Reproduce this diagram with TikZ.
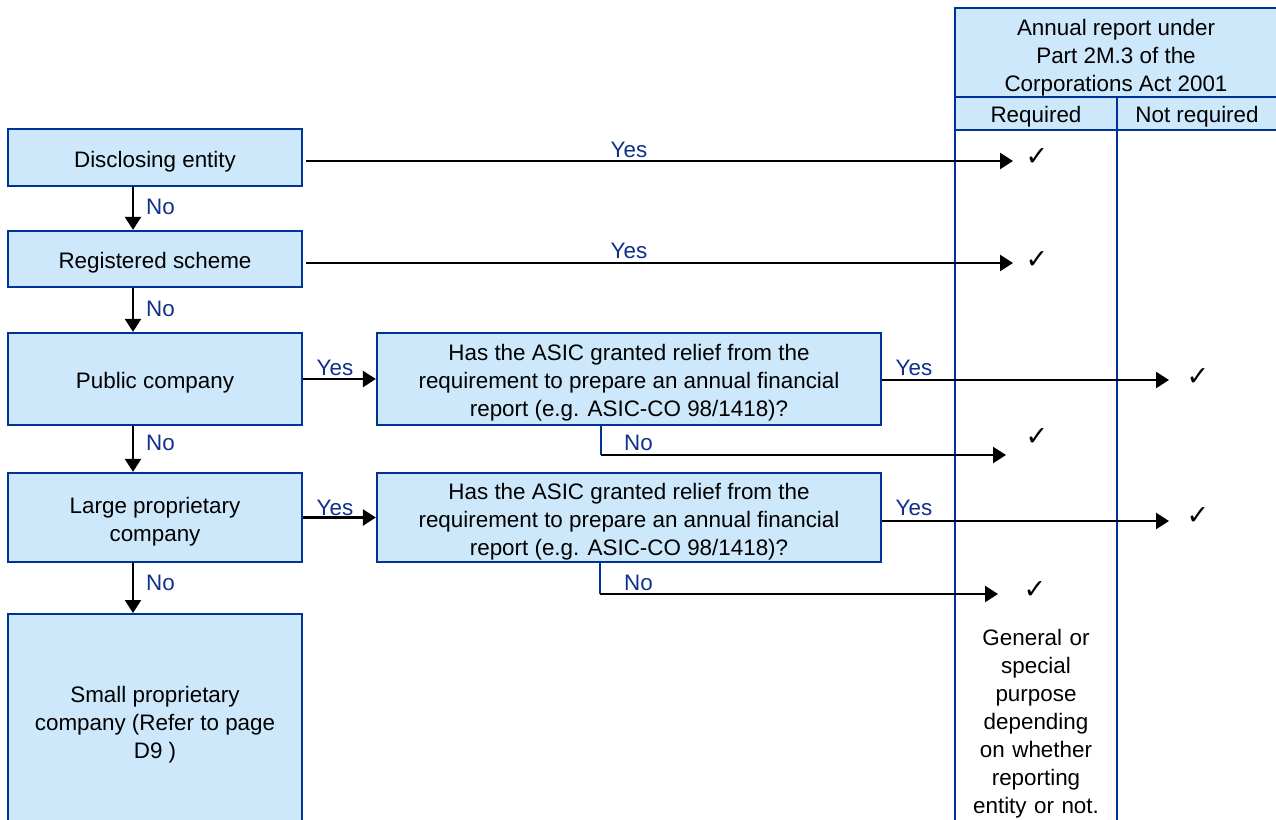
\documentclass[tikz,border=0pt]{standalone}
\usepackage{fontspec}
\setmainfont{Liberation Sans}
\newfontfamily\symfont{DejaVu Sans}
\usetikzlibrary{arrows.meta}
\definecolor{boxfill}{RGB}{205,232,250}
\definecolor{boxline}{RGB}{0,51,153}
\definecolor{labblue}{RGB}{16,48,140}
\newcommand{\lowertext}[1]{\raisebox{-4pt}[\height][\depth]{#1}}
\begin{document}
\begin{tikzpicture}[x=1pt,y=-1pt,
 box/.style={draw=boxline, line width=2.3pt, fill=boxfill, minimum width=294pt, align=center, inner sep=0pt, font=\fontsize{22.4}{28}\selectfont},
 qbox/.style={box, minimum width=504pt},
 lab/.style={text=labblue, font=\fontsize{22.4}{28}\selectfont, inner sep=0pt},
 arr/.style={line width=2.5pt, -{Triangle[length=13pt,width=16pt]}},
 tick/.style={font=\symfont\fontsize{27}{28}\selectfont, inner sep=0pt},
 txt/.style={font=\fontsize{22.4}{28}\selectfont, align=center, inner sep=0pt},
 tabline/.style={draw=boxline, line width=2.3pt}]
\useasboundingbox (0,0) rectangle (1276,819);
\clip (0,0) rectangle (1276,819);
% table
\fill[boxfill] (955,8) rectangle (1280,130);
\draw[tabline] (1280,8) -- (955,8) -- (955,825);
\draw[tabline] (955,97) -- (1280,97);
\draw[tabline] (955,130) -- (1280,130);
\draw[tabline] (1117,97) -- (1117,825);
\node[txt] (title) at (1116,58) {Annual report under\\Part 2M.3 of the\\Corporations Act 2001};
\node[txt] (req) at (1036,117) {Required};
\node[txt] (notreq) at (1197,117) {Not required};
\node[txt, text width=130pt] (gen) at (1036,724) {General or\\special\\purpose\\depending\\on whether\\reporting\\entity or not.};
% left boxes
\node[box, minimum height=57pt] (dis) at (155,157.5) {\lowertext{Disclosing entity}};
\node[box, minimum height=56pt] (reg) at (155,259) {\lowertext{Registered scheme}};
\node[box, minimum height=92pt] (pub) at (155,379) {\lowertext{Public company}};
\node[box, minimum height=89pt] (lpc) at (155,517.5) {\lowertext{\begin{tabular}{@{}c@{}}Large proprietary\\company\end{tabular}}};
\node[box, minimum height=214pt, anchor=north] (spc) at (155,613) {\lowertext{\begin{tabular}{@{}c@{}}Small proprietary\\company (Refer to page\\D9 )\end{tabular}}};
% question boxes
\node[qbox, minimum height=92pt] (q1) at (629,379) {\lowertext{\begin{tabular}{@{}c@{}}Has the ASIC granted relief from the\\requirement to prepare an annual financial\\report (e.g. ASIC-CO 98/1418)?\end{tabular}}};
\node[qbox, minimum height=89pt] (q2) at (629,517.5) {\lowertext{\begin{tabular}{@{}c@{}}Has the ASIC granted relief from the\\requirement to prepare an annual financial\\report (e.g. ASIC-CO 98/1418)?\end{tabular}}};
% down arrows
\draw[arr] ([xshift=-22pt]dis.south) -- ([xshift=-22pt]reg.north);
\draw[arr] ([xshift=-22pt]reg.south) -- ([xshift=-22pt]pub.north);
\draw[arr] ([xshift=-22pt]pub.south) -- ([xshift=-22pt]lpc.north);
\draw[arr] ([xshift=-22pt]lpc.south) -- ([xshift=-22pt]spc.north);
\node[lab, anchor=west] (n1) at (146,207) {No};
\node[lab, anchor=west] (n2) at (146,309) {No};
\node[lab, anchor=west] (n3) at (146,443) {No};
\node[lab, anchor=west] (n4) at (146,583) {No};
% ticks
\node[tick] (c1) at (1037,157) {✓};
\node[tick] (c2) at (1037,260) {✓};
\node[tick] (c3) at (1198,377) {✓};
\node[tick] (c4) at (1037,437) {✓};
\node[tick] (c5) at (1198,516) {✓};
\node[tick] (c6) at (1035,590) {✓};
% arrow targets
\coordinate (t1) at (1013,161);
\coordinate (t2) at (1013,263);
\coordinate (t3) at (1169,380);
\coordinate (t4) at (1006,455);
\coordinate (t5) at (1169,521);
\coordinate (t6) at (998,594);
\coordinate (b1) at (601,455);
\coordinate (b2) at (600,594);
% yes arrows
\draw[arr] ([xshift=3pt]dis.east |- t1) -- (t1);
\draw[arr] ([xshift=3pt]reg.east |- t2) -- (t2);
\draw[arr] (pub.east) -- (q1.west);
\draw[arr] (q1.east |- t3) -- (t3);
\draw[arr] (lpc.east) -- (q2.west);
\draw[arr] (q2.east |- t5) -- (t5);
\node[lab] (y1) at (629,150) {Yes};
\node[lab] (y2) at (629,251) {Yes};
\node[lab] (y3) at (335,368) {Yes};
\node[lab] (y4) at (914,368) {Yes};
\node[lab] (y5) at (335,508) {Yes};
\node[lab] (y6) at (914,508) {Yes};
% no branches
\draw[tabline] ([xshift=-28pt]q1.south) -- (b1);
\draw[arr] (b1) -- (t4);
\draw[tabline] ([xshift=-29pt]q2.south) -- (b2);
\draw[arr] (b2) -- (t6);
\node[lab, anchor=west] (n5) at (624,443) {No};
\node[lab, anchor=west] (n6) at (624,583) {No};
\end{tikzpicture}
\end{document}
